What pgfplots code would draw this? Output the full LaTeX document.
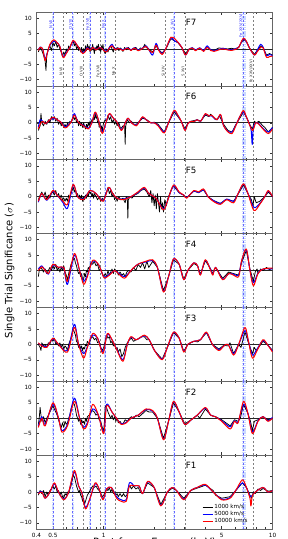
\documentclass[border=0pt]{standalone}
\usepackage{fontspec}
\setmainfont{DejaVu Sans}
\usepackage{pgfplots}
\pgfplotsset{compat=1.18}
\usepgfplotslibrary{groupplots}
\usetikzlibrary{calc}
\definecolor{bandblue}{rgb}{0.65,0.75,1}
\newcommand{\vl}{%
 \pgfplotsinvokeforeach{0.5,0.654,0.826,1.022,2.62}{%
  \addplot[bandblue, line width=1.4pt, opacity=0.6, dash pattern=on 1pt off 0.6pt, forget plot] coordinates {(##1,-12) (##1,12)};
  \addplot[blue!60, line width=0.25pt, dash pattern=on 1.5pt off 1.5pt, forget plot] coordinates {(##1,-12) (##1,12)};}
 \addplot[bandblue, line width=3pt, opacity=0.6, dash pattern=on 1pt off 0.6pt, forget plot] coordinates {(6.75,-12) (6.75,12)};
 \addplot[blue!60, line width=0.25pt, dash pattern=on 1.5pt off 1.5pt, forget plot] coordinates {(6.7,-12) (6.7,12)};
 \pgfplotsinvokeforeach{0.575,0.757,0.952,1.176,2.32,3.03,7.69}{%
  \addplot[black!50, line width=0.25pt, dash pattern=on 1.5pt off 1.5pt, forget plot] coordinates {(##1,-12) (##1,12)};}
 \addplot[black!85, line width=0.5pt, forget plot] coordinates {(0.4,0) (10,0)};
}
\pgfplotsset{
 kline/.style={black, line width=0.55pt},
 bline/.style={blue, line width=0.75pt, smooth, tension=0.5},
 rline/.style={red, line width=0.75pt, smooth, tension=0.5},
}
\begin{document}
\begin{tikzpicture}
\begin{groupplot}[group style={group size=1 by 7, vertical sep=0pt},
 width=177pt, height=55.39pt, scale only axis,
 xmode=log, xmin=0.4, xmax=10, ymin=-12, ymax=12,
 ytick={-10,-5,0,5,10}, yticklabels={−10,−5,0,5,10},
 xtick={0.4,0.5,1,5,10}, xticklabels={},
 minor xtick={0.6,0.7,0.8,0.9,2,3,4,6,7,8,9},
 tick align=inside, tick style={black!80, line width=0.35pt},
 major tick length=2pt, minor tick length=1.2pt,
 ticklabel style={font=\fontsize{4.3}{5}\selectfont},
 axis line style={black!60, line width=0.5pt},
 every axis plot/.append style={line join=round},
]
%%%%%%%% F7
\nextgroupplot
\vl
\addplot[kline] coordinates {(0.41,-1)(0.42,0.5)(0.43,-0.5)(0.44,-2)(0.45,-4)(0.455,-7)(0.46,-2)(0.47,0)(0.48,1)(0.49,-0.5)(0.5,2)(0.51,1)(0.52,2.5)(0.53,0.5)(0.54,1.5)(0.55,0)(0.56,-1)(0.57,-2.5)(0.58,-1)(0.59,-2)(0.6,0)(0.61,-1)(0.62,1)(0.63,0)(0.64,1.5)(0.66,2.5)(0.67,1)(0.68,2)(0.69,0)(0.70,1)(0.71,-0.5)(0.72,0.5)(0.73,-1)(0.74,0.5)(0.75,-1.5)(0.76,0)(0.77,-1)(0.78,1)(0.79,-0.5)(0.80,1.5)(0.81,0)(0.82,1)(0.83,-1)(0.84,0.5)(0.85,-0.5)(0.86,1.5)(0.87,0)(0.88,-1.5)(0.89,0.5)(0.9,-0.5)(0.91,1)(0.92,0)(0.93,1.5)(0.94,-0.5)(0.95,0.5)(0.96,-1)(0.97,1)(0.98,0)(0.99,1.5)(1.0,-0.5)(1.02,-1.5)(1.04,0)(1.06,-1)(1.08,0.5)(1.1,1)(1.12,0)(1.14,-1)(1.16,0.5)(1.18,-0.5)(1.2,0.5)(1.23,-0.5)(1.26,0.3)(1.3,-0.8)(1.33,0.5)(1.36,-0.3)(1.4,0.5)(1.45,-0.5)(1.5,0.2)(1.55,0.5)(1.6,-0.5)(1.65,0.3)(1.7,0)(1.75,1.5)(1.78,0.5)(1.85,0)(1.95,-1)(2.04,1)(2.12,-0.3)(2.22,-1.3)(2.35,0.3)(2.5,3.3)(2.65,2.5)(2.75,2)(2.9,0.5)(3.05,-1.5)(3.2,0)(3.35,0.3)(3.5,-0.3)(3.7,0.2)(3.9,-0.5)(4.1,0.6)(4.3,-0.3)(4.5,-0.5)(4.8,0.3)(5.1,0.2)(5.4,0)(5.7,0.2)(6.0,0)(6.3,0.5)(6.55,2.2)(6.75,3)(7.0,2.5)(7.3,0.3)(7.8,-1.8)(8.1,-0.5)(8.5,1)(8.8,0.5)(9.2,-2)(9.6,-1.5)(10,-2)};
\addplot[bline] coordinates {(0.41,-0.3)(0.42,0.6)(0.435,0)(0.45,-3.2)(0.465,-1)(0.48,1.2)(0.505,2.5)(0.53,2)(0.55,0.8)(0.575,-2.5)(0.6,-1.2)(0.63,0.5)(0.66,2.5)(0.69,1.5)(0.72,0)(0.75,-1.2)(0.78,-0.5)(0.8,0.5)(0.83,-0.3)(0.86,0.6)(0.9,-0.2)(0.94,0.5)(0.97,0.3)(1.0,-0.3)(1.04,-0.8)(1.08,0.5)(1.12,1.5)(1.17,-0.2)(1.22,0.3)(1.3,-0.3)(1.38,0.4)(1.45,-0.3)(1.52,0.4)(1.6,-0.4)(1.7,0.3)(1.78,1)(1.85,-0.2)(1.95,-2)(2.04,1.8)(2.12,-0.3)(2.22,-1.5)(2.35,0.5)(2.5,3.5)(2.65,2.5)(2.75,2.2)(2.9,0.5)(3.05,-2)(3.2,-0.2)(3.35,0.4)(3.5,-0.4)(3.7,0.4)(3.9,-0.5)(4.1,1)(4.3,-0.3)(4.5,-0.5)(4.8,-0.2)(5.1,0.2)(5.4,-0.2)(5.7,-0.3)(6.0,0)(6.3,0.5)(6.55,2.3)(6.75,3.2)(7.0,2.3)(7.3,0.3)(7.8,-2)(8.1,-0.5)(8.5,1.5)(8.8,0.5)(9.2,-2.2)(9.6,-1.8)(10,-2.2)};
\addplot[rline] coordinates {(0.41,-0.5)(0.42,0.5)(0.435,0)(0.45,-3.8)(0.465,-1)(0.48,1.5)(0.505,3)(0.53,2)(0.55,0.8)(0.575,-2.8)(0.6,-1.5)(0.63,0.5)(0.66,2.8)(0.69,1.5)(0.72,0)(0.75,-1.5)(0.78,-0.8)(0.8,0.3)(0.83,-0.5)(0.86,0.5)(0.9,-0.3)(0.94,0.4)(0.97,0.3)(1.0,-0.5)(1.04,-1)(1.08,0.3)(1.12,1)(1.17,-0.3)(1.22,0.2)(1.3,-0.5)(1.38,0.3)(1.45,-0.5)(1.52,0.3)(1.6,-0.6)(1.7,0.2)(1.78,0.8)(1.85,-0.3)(1.95,-1.2)(2.04,1.2)(2.12,-0.5)(2.22,-1.8)(2.35,0.5)(2.5,3.8)(2.65,3.2)(2.75,2.2)(2.9,0.5)(3.05,-2)(3.2,-0.2)(3.35,0.3)(3.5,-0.6)(3.7,0.3)(3.9,-0.8)(4.1,0.5)(4.3,-0.5)(4.5,-0.8)(4.8,-0.3)(5.1,0)(5.4,-0.3)(5.7,-0.5)(6.0,-0.2)(6.3,0.5)(6.55,2.5)(6.75,3.5)(7.0,2.5)(7.3,0.3)(7.8,-2)(8.1,-1)(8.5,0.5)(8.8,0.3)(9.2,-2.7)(9.6,-2.5)(10,-2.3)};
\node[font=\fontsize{6.5}{8}\selectfont] at (rel axis cs:0.655,0.856) {F7};
\begin{scope}[every node/.style={rotate=90, anchor=south, font=\fontsize{2.8}{3}\selectfont, inner sep=0.3pt}]
\node[text=blue!80] at (axis cs:0.5,8) {N VII};
\node[text=blue!80] at (axis cs:0.654,8) {O VIII};
\node[text=blue!80] at (axis cs:0.826,8) {Fe XVII};
\node[text=blue!80] at (axis cs:1.022,8) {Ne X};
\node[text=blue!80] at (axis cs:2.62,8) {S XVI};
\node[text=blue!80] at (axis cs:6.7,7.6) {Fe XXV/XXVI};
\node[text=black!80] at (axis cs:0.575,-7.3) {N VII};
\node[text=black!80] at (axis cs:0.757,-7.3) {O VIII};
\node[text=black!80] at (axis cs:0.952,-7.3) {Fe XVII};
\node[text=black!80] at (axis cs:1.176,-7.3) {Ne X};
\node[text=black!80] at (axis cs:2.32,-7.3) {Si XIV};
\node[text=black!80] at (axis cs:3.03,-7.3) {S XVI};
\node[text=black!80] at (axis cs:7.69,-7.3) {Fe XXV/XXVI};
\end{scope}
%%%%%%%% F6
\nextgroupplot
\vl
\addplot[kline] coordinates {(0.41,-2.5)(0.42,-1)(0.425,3)(0.43,0)(0.44,-1)(0.45,0.5)(0.46,-0.5)(0.47,1)(0.48,0)(0.49,2)(0.5,1)(0.51,2)(0.52,0.5)(0.53,1.5)(0.54,-0.5)(0.55,0.5)(0.56,-1)(0.57,0)(0.58,-1.5)(0.59,-0.5)(0.6,-1.5)(0.61,0)(0.62,-1)(0.63,0.5)(0.64,0)(0.66,2)(0.67,1)(0.68,2)(0.69,0)(0.7,1)(0.71,-1)(0.72,0.5)(0.73,-1)(0.74,0)(0.75,-1.5)(0.76,0)(0.77,-1)(0.78,-2)(0.79,-0.5)(0.80,-1.5)(0.81,0)(0.82,-1)(0.83,0.5)(0.84,-0.5)(0.85,1)(0.86,0)(0.87,2)(0.88,1)(0.89,3)(0.9,1.5)(0.91,2)(0.92,0)(0.93,0.5)(0.94,-1.5)(0.95,0)(0.96,-2)(0.97,-1)(0.98,-3)(0.99,-1)(1.0,0)(1.02,1)(1.04,0.5)(1.06,2.5)(1.08,1)(1.1,2)(1.12,0)(1.14,1)(1.16,-0.5)(1.18,0.5)(1.2,-1)(1.23,0)(1.26,-2)(1.3,-1)(1.33,-1)(1.34,-7)(1.35,-1)(1.38,1)(1.42,0)(1.46,0.5)(1.5,-0.5)(1.56,-0.5)(1.63,0.5)(1.7,1.5)(1.8,1)(1.9,0)(2.0,0.2)(2.1,-0.5)(2.28,-3)(2.42,0)(2.61,3.5)(2.75,2)(2.88,0.5)(3.03,-2)(3.15,0)(3.3,0.5)(3.58,1)(3.75,0.5)(4.0,2.5)(4.2,2)(4.3,2.8)(4.55,1.2)(4.7,1.2)(4.85,2.2)(5.13,-0.5)(5.45,-2.5)(5.76,-3)(6.0,-1)(6.4,1.5)(6.73,3.5)(7.05,1.5)(7.4,-1)(7.6,-2)(7.8,0.5)(8.0,0)(8.3,0.5)(8.77,-1)(9.0,-1.5)(9.44,-3)(10,-1.5)};
\addplot[bline] coordinates {(0.41,-1.5)(0.42,1)(0.435,0.5)(0.45,-0.3)(0.47,0.5)(0.5,1.5)(0.53,1)(0.555,0.3)(0.59,-1.3)(0.62,-0.5)(0.645,0.5)(0.67,3)(0.7,0.5)(0.73,-0.5)(0.76,-0.8)(0.81,-1.8)(0.85,0)(0.89,3.3)(0.93,1)(0.98,-3)(1.03,0)(1.08,2.8)(1.14,1.5)(1.19,0.5)(1.27,-2.2)(1.33,-0.5)(1.39,1.5)(1.46,0)(1.56,-0.8)(1.63,0.5)(1.7,1.8)(1.8,0.8)(1.9,0)(1.99,0)(2.1,-0.8)(2.28,-3)(2.42,0)(2.61,3.8)(2.75,2.3)(2.88,0.5)(3.03,-2.3)(3.15,-0.3)(3.3,0.5)(3.45,0.5)(3.58,1)(3.75,0.5)(4.0,2.8)(4.2,2.2)(4.35,2.3)(4.55,1.3)(4.7,1)(4.85,2.3)(4.95,2.3)(5.13,-1)(5.45,-2.8)(5.76,-3)(6.0,-1.3)(6.4,2)(6.73,3.5)(7.05,1.5)(7.45,-2)(7.58,-7)(7.7,-1.5)(7.95,0)(8.3,-0.3)(8.77,-1.8)(9.44,-3)(10,-1.5)};
\addplot[rline] coordinates {(0.41,-2)(0.42,-0.5)(0.435,0.5)(0.45,-0.3)(0.47,0.5)(0.5,1.8)(0.53,1)(0.555,0.3)(0.59,-1.7)(0.62,-0.8)(0.645,0.5)(0.67,2.5)(0.7,0.5)(0.73,-0.5)(0.76,-1)(0.81,-2)(0.85,0)(0.89,3.5)(0.93,1)(0.98,-3.5)(1.03,0)(1.08,3)(1.14,1.5)(1.19,0.5)(1.27,-2.5)(1.33,-0.5)(1.39,1.5)(1.46,0)(1.56,-1)(1.63,0.5)(1.7,2)(1.8,0.8)(1.9,0)(1.99,0)(2.1,-1)(2.28,-3.3)(2.42,0)(2.61,4)(2.75,2.5)(2.88,0.5)(3.03,-2.5)(3.15,-0.3)(3.3,0.5)(3.45,0.5)(3.58,1)(3.75,0.5)(4.0,3)(4.2,2.2)(4.35,2.5)(4.55,1.5)(4.7,1)(4.85,2.5)(4.95,2.5)(5.13,-1)(5.45,-3)(5.76,-3.5)(6.0,-1.5)(6.4,2)(6.73,4)(7.05,1.5)(7.6,-2.5)(7.95,0)(8.3,-0.5)(8.77,-2)(9.44,-3.5)(10,-2)};
\node[font=\fontsize{6.5}{8}\selectfont] at (rel axis cs:0.655,0.856) {F6};
%%%%%%%% F5
\nextgroupplot
\vl
\addplot[kline] coordinates {(0.41,-1)(0.42,0.5)(0.43,1.5)(0.44,0)(0.45,1.5)(0.46,-1)(0.47,0.5)(0.48,-0.5)(0.49,1)(0.5,1.5)(0.51,0.5)(0.52,2)(0.53,0)(0.54,1)(0.55,-0.5)(0.56,0.5)(0.57,-1)(0.58,-0.5)(0.59,-1.5)(0.6,-0.5)(0.61,-1.5)(0.62,0.5)(0.63,-0.5)(0.64,1)(0.66,3)(0.67,1.5)(0.68,2.5)(0.69,0)(0.7,1)(0.71,-0.5)(0.72,0.5)(0.73,-1)(0.74,0.5)(0.75,-1.5)(0.76,0)(0.77,-1)(0.78,0.5)(0.79,-0.5)(0.8,1)(0.81,0)(0.82,2)(0.83,1)(0.84,1.5)(0.85,0)(0.86,1)(0.87,-0.5)(0.88,1)(0.9,0)(0.92,-1)(0.94,0)(0.96,-1.5)(0.98,-0.5)(1.0,-1.5)(1.02,0.5)(1.04,1.5)(1.06,3)(1.08,1)(1.1,2)(1.12,0)(1.14,1)(1.16,-1)(1.18,0)(1.2,-1.5)(1.23,0)(1.26,-1)(1.3,-0.5)(1.34,-2)(1.36,0)(1.38,-1)(1.39,-7)(1.4,-1)(1.43,0)(1.47,-0.5)(1.52,0.5)(1.59,1)(1.66,2)(1.74,2.5)(1.8,1.5)(1.86,0)(1.9,2)(1.93,-2)(1.96,1)(1.99,-3)(2.02,0.5)(2.05,-4)(2.08,1)(2.11,-2)(2.14,-5)(2.17,0)(2.2,-4)(2.23,-2)(2.26,-5)(2.3,-1)(2.35,-3)(2.4,-0.5)(2.5,2)(2.59,3.5)(2.8,1.2)(2.98,0.5)(3.1,-0.3)(3.42,1.8)(3.65,1.3)(3.9,2.2)(4.15,0)(4.45,-1.2)(4.9,-2.2)(5.35,-0.8)(5.88,-1.5)(6.25,0.8)(6.73,3.8)(7.15,1)(7.5,-1)(7.65,-3)(7.8,0)(8.0,-2)(8.4,-1.5)(9.0,0)(9.44,1.5)(10,0)};
\addplot[bline] coordinates {(0.41,-1.8)(0.43,1)(0.46,-1.2)(0.5,1.8)(0.53,0.5)(0.575,-2)(0.61,-3.8)(0.66,3.8)(0.7,0)(0.76,-0.8)(0.83,2)(0.9,1)(0.99,-1.3)(1.07,3)(1.13,1)(1.2,-0.5)(1.3,-0.8)(1.45,0)(1.59,1.3)(1.74,2.8)(1.85,1)(2.04,-0.5)(2.26,-4)(2.4,-1)(2.59,3.5)(2.8,1.3)(2.98,0.5)(3.1,-0.3)(3.42,1.8)(3.65,1.3)(3.9,2.2)(4.15,0)(4.45,-1.2)(4.9,-2.2)(5.35,-0.8)(5.88,-1.5)(6.25,1)(6.73,4)(7.15,1)(7.76,-3.5)(8.4,-2.2)(9.0,0)(9.44,1.8)(10,0)};
\addplot[rline] coordinates {(0.41,-1.5)(0.43,1)(0.46,-1)(0.5,2)(0.53,0.5)(0.575,-1.5)(0.61,-2.5)(0.66,4)(0.7,0)(0.76,-1)(0.83,2)(0.9,1)(0.99,-1.5)(1.07,3)(1.13,1)(1.2,-0.5)(1.3,-1)(1.45,0)(1.59,1.5)(1.74,3)(1.85,1)(2.04,-0.5)(2.26,-4.3)(2.4,-1)(2.59,3.8)(2.8,1.5)(2.98,0.5)(3.1,-0.5)(3.42,2)(3.65,1.5)(3.9,2.5)(4.15,0)(4.45,-1.5)(4.9,-2.5)(5.35,-1)(5.88,-2)(6.25,1)(6.73,4.2)(7.15,1)(7.76,-4.5)(8.4,-2.5)(9.0,0)(9.44,2)(10,0)};
\node[font=\fontsize{6.5}{8}\selectfont] at (rel axis cs:0.655,0.856) {F5};
%%%%%%%% F4
\nextgroupplot
\vl
\addplot[kline] coordinates {(0.41,-2)(0.415,0)(0.42,1)(0.43,0.5)(0.44,-0.5)(0.45,0.5)(0.46,-1)(0.47,0)(0.48,1)(0.49,0)(0.5,1.5)(0.51,0.5)(0.52,2)(0.53,0)(0.54,1)(0.55,-0.5)(0.56,1)(0.57,0)(0.58,1.5)(0.59,-0.5)(0.6,-1.5)(0.61,-3)(0.62,-1)(0.63,0.5)(0.64,2)(0.66,3.5)(0.67,4)(0.68,2.5)(0.69,1.5)(0.7,0)(0.71,-1)(0.72,-0.5)(0.73,-2)(0.74,-1)(0.75,-3)(0.76,-3)(0.77,-1)(0.78,-2)(0.79,0)(0.8,-0.5)(0.81,1)(0.82,0.5)(0.84,2.5)(0.86,2)(0.88,3)(0.9,1.5)(0.92,2)(0.94,0)(0.96,0.5)(0.98,-1)(1.0,-2)(1.02,-1)(1.04,-2)(1.06,0)(1.08,-1.5)(1.1,-0.5)(1.12,0.5)(1.14,-1)(1.16,0.5)(1.18,-0.5)(1.2,0)(1.22,-1.5)(1.25,-0.5)(1.28,-1.5)(1.31,-1)(1.34,-2)(1.37,-0.5)(1.4,0)(1.45,-0.5)(1.5,1)(1.55,0)(1.6,2)(1.65,1)(1.7,2.5)(1.75,0.5)(1.8,3)(1.85,1)(1.9,2)(1.95,3)(2.08,1)(2.26,-6.5)(2.42,-2)(2.59,3.5)(2.8,2)(2.98,-2.8)(3.15,0)(3.42,2.3)(3.6,1.5)(3.74,-1.2)(4.0,3.2)(4.3,0.5)(4.43,-1)(4.6,1)(5.06,-2.5)(5.5,-0.5)(5.88,-1)(6.3,-1.5)(6.55,2.5)(6.99,6.5)(7.35,0.5)(7.7,-3.5)(7.9,-0.5)(8.1,0.5)(8.2,-1)(8.5,0.5)(8.8,0)(9.2,1)(9.6,0.3)(10,0.8)};
\addplot[bline] coordinates {(0.41,0.5)(0.43,1.5)(0.45,0)(0.47,-1.2)(0.5,1.8)(0.54,1)(0.58,0.8)(0.61,-4.5)(0.67,5)(0.72,0)(0.76,-3.5)(0.8,-1.5)(0.86,3)(0.93,2)(0.98,-1)(1.01,-2.2)(1.08,-1.2)(1.16,0)(1.22,-0.8)(1.33,-2)(1.45,0)(1.59,2)(1.78,2.8)(1.95,3.2)(2.08,1)(2.26,-6.8)(2.42,-2)(2.59,3.7)(2.8,2)(2.98,-3)(3.15,0)(3.42,2.5)(3.6,1.5)(3.74,-1.3)(4.0,3.3)(4.3,0.3)(4.43,-1.3)(4.6,1)(5.06,-2.8)(5.5,-1)(5.88,-1.2)(6.3,-1.5)(6.55,3)(6.99,6.8)(7.35,0)(7.7,-4)(8.2,-0.8)(8.8,0.5)(10,0.5)};
\addplot[rline] coordinates {(0.41,0)(0.43,1.2)(0.45,0)(0.47,-1)(0.5,2)(0.54,1)(0.58,1)(0.61,-3.5)(0.67,5.5)(0.72,0)(0.76,-4.5)(0.8,-2)(0.86,3.3)(0.93,2)(0.98,-1)(1.01,-2.5)(1.08,-1.5)(1.16,0)(1.22,-1)(1.33,-2.5)(1.45,0)(1.59,2)(1.78,3)(1.95,3.5)(2.08,1)(2.26,-7)(2.42,-2)(2.59,3.8)(2.8,2)(2.98,-3)(3.15,0)(3.42,2.5)(3.6,1.5)(3.74,-1.5)(4.0,3.5)(4.3,0)(4.43,-1.5)(4.6,1)(5.06,-3)(5.5,-1)(5.88,-1.5)(6.3,-2)(6.55,3)(6.99,7)(7.35,0)(7.7,-5)(8.2,-1)(8.8,0.5)(10,0.8)};
\node[font=\fontsize{6.5}{8}\selectfont] at (rel axis cs:0.655,0.856) {F4};
%%%%%%%% F3
\nextgroupplot
\vl
\addplot[kline] coordinates {(0.41,0)(0.42,-1)(0.425,-2)(0.43,0.5)(0.44,-0.5)(0.45,0)(0.46,-1)(0.47,0.5)(0.48,0)(0.49,1.5)(0.5,1)(0.51,2)(0.52,0)(0.53,0.5)(0.54,-0.5)(0.55,0.5)(0.56,-1)(0.57,0)(0.58,-1.5)(0.59,-0.5)(0.6,-1)(0.61,-2)(0.62,0)(0.63,1)(0.64,2)(0.66,5)(0.67,4)(0.68,3)(0.69,1)(0.7,0.5)(0.71,-1)(0.72,0)(0.73,-1.5)(0.74,-0.5)(0.75,-2)(0.76,-1)(0.77,-1.5)(0.78,0)(0.79,-0.5)(0.8,1)(0.82,0)(0.84,2)(0.86,2.5)(0.88,1.5)(0.9,2)(0.92,0.5)(0.94,1)(0.96,-1)(0.98,-2)(1.0,-1)(1.02,1)(1.04,3)(1.06,2)(1.08,2.5)(1.1,0.5)(1.12,1)(1.14,-0.5)(1.16,0)(1.18,-1.5)(1.2,-1)(1.22,-2.5)(1.25,-1.5)(1.28,-4)(1.31,-3)(1.34,-1)(1.38,0.5)(1.42,1.5)(1.46,2)(1.5,1)(1.56,1.5)(1.62,2)(1.68,2.5)(1.74,2.5)(1.8,1.5)(1.86,1.5)(2.0,-2)(2.22,-4.8)(2.38,-1)(2.59,3.8)(2.8,2)(2.98,-2.2)(3.15,0)(3.42,1)(3.6,0.8)(3.74,1.5)(4.06,3.8)(4.4,0)(4.81,-1.5)(5.15,-0.3)(5.45,-0.5)(5.6,0.5)(5.88,-3)(6.3,0)(6.5,-1)(6.87,4)(7.2,0.5)(7.6,-3)(7.8,-1)(8.0,-2)(8.4,-0.5)(8.77,1)(9.3,0)(10,-2)};
\addplot[bline] coordinates {(0.41,0.3)(0.43,-0.3)(0.46,-0.8)(0.5,1.8)(0.54,0)(0.61,-2)(0.67,6.5)(0.71,0)(0.76,-3)(0.8,-0.8)(0.86,3)(0.92,2)(0.99,-2.5)(1.05,3.2)(1.12,1.5)(1.2,-1.8)(1.3,-5)(1.38,0)(1.45,2.3)(1.56,1.5)(1.74,2.8)(1.86,1.5)(2.0,-2)(2.22,-4.8)(2.38,-1)(2.59,3.8)(2.8,2)(2.98,-2.3)(3.15,0)(3.42,1)(3.74,1.5)(4.06,3.8)(4.4,0)(4.81,-1.7)(5.15,-0.5)(5.45,0)(5.88,-3)(6.3,0)(6.87,4.5)(7.2,1)(7.6,-3.5)(8.1,-1.5)(8.77,1.3)(9.3,0)(10,-2.2)};
\addplot[rline] coordinates {(0.41,0.5)(0.43,-0.5)(0.46,-1)(0.5,2)(0.54,0)(0.61,-2.5)(0.67,5.5)(0.71,0)(0.76,-4.5)(0.8,-1)(0.86,3.5)(0.92,2)(0.99,-3)(1.05,3.5)(1.12,1.5)(1.2,-2)(1.3,-5.5)(1.38,0)(1.45,2.5)(1.56,1.5)(1.74,3)(1.86,1.5)(2.0,-2)(2.22,-5)(2.38,-1)(2.59,4)(2.8,2)(2.98,-2.5)(3.15,0)(3.42,1)(3.74,1.5)(4.06,4)(4.4,0)(4.81,-2)(5.15,-0.5)(5.45,0)(5.88,-3.5)(6.3,0)(6.87,5.5)(7.2,1)(7.6,-4.5)(8.1,-2)(8.77,1.5)(9.3,0)(10,-2.5)};
\node[font=\fontsize{6.5}{8}\selectfont] at (rel axis cs:0.655,0.856) {F3};
%%%%%%%% F2
\nextgroupplot
\vl
\addplot[kline] coordinates {(0.41,-2)(0.415,0)(0.42,3.5)(0.425,1)(0.43,-1)(0.44,0.5)(0.45,-1.5)(0.46,0)(0.47,1)(0.48,2)(0.49,3)(0.5,4)(0.51,3)(0.52,2)(0.53,1)(0.54,-0.5)(0.55,-2)(0.56,-3)(0.57,-1.5)(0.58,-3)(0.59,-1)(0.6,-2)(0.61,-1.5)(0.62,0)(0.63,1)(0.64,3)(0.66,5)(0.67,4.5)(0.68,3)(0.69,1)(0.7,0)(0.71,-1)(0.72,0)(0.73,-2)(0.74,-0.5)(0.75,-1.5)(0.76,-1)(0.77,-2)(0.78,0)(0.79,-1)(0.8,0.5)(0.82,1)(0.84,2)(0.86,2.5)(0.88,2)(0.9,1)(0.92,1.5)(0.94,-0.5)(0.96,-1)(0.98,-3)(1.0,-4)(1.01,-1)(1.02,4)(1.04,3.5)(1.06,2)(1.08,1)(1.1,0)(1.12,1)(1.14,-0.5)(1.16,0.5)(1.18,-1)(1.2,0)(1.22,-1.5)(1.25,-1)(1.28,-2)(1.31,-1.5)(1.34,-0.5)(1.38,-1)(1.42,0)(1.46,0.5)(1.5,0)(1.56,1)(1.62,0.5)(1.7,1.5)(1.78,2.5)(1.86,2)(1.95,2)(2.08,0)(2.26,-6.5)(2.42,-1)(2.59,5)(2.8,2)(3.02,-1.8)(3.3,-0.5)(3.58,1)(3.7,0)(4.0,3)(4.3,1)(4.58,0.5)(5.0,-0.5)(5.3,-1.5)(5.61,-2.5)(5.95,-0.5)(6.25,-1)(6.45,0)(6.73,4.5)(7.15,1.5)(7.4,-1)(7.6,-4)(7.8,-1)(8.2,-0.5)(8.77,0.5)(9.4,-0.5)(10,0)};
\addplot[bline] coordinates {(0.41,-2.5)(0.43,0.5)(0.45,-2)(0.5,4.5)(0.54,0)(0.565,-4)(0.61,-2)(0.67,6.5)(0.72,0)(0.76,-3)(0.8,-1.5)(0.86,3)(0.93,1)(1.0,-4.5)(1.04,4.5)(1.12,2)(1.19,0)(1.27,-1.8)(1.36,-1.3)(1.45,0)(1.6,1)(1.78,2.8)(1.95,2.3)(2.08,0)(2.26,-6.8)(2.42,-1)(2.59,5.3)(2.8,2)(3.02,-2)(3.3,-0.5)(3.58,1)(4.0,3.3)(4.3,1)(4.58,0.5)(5.0,-0.8)(5.61,-2.8)(5.95,-0.8)(6.25,-1.2)(6.73,4.5)(7.15,1.5)(7.6,-4.5)(8.2,-0.8)(8.77,0.5)(9.4,-0.8)(10,0.3)};
\addplot[rline] coordinates {(0.41,-3)(0.43,0)(0.45,-2.5)(0.5,5)(0.54,0)(0.565,-4.5)(0.61,-2.5)(0.67,5.5)(0.72,0)(0.76,-3.5)(0.8,-2)(0.86,4.5)(0.93,1)(1.0,-5)(1.04,4)(1.12,2)(1.19,0)(1.27,-2)(1.36,-1.5)(1.45,0)(1.6,1)(1.78,3)(1.95,2.5)(2.08,0)(2.26,-7)(2.42,-1)(2.59,5.5)(2.8,2)(3.02,-2)(3.3,-0.5)(3.58,1)(4.0,3.5)(4.3,1)(4.58,0.5)(5.0,-1)(5.61,-3.5)(5.95,-1)(6.25,-1.5)(6.73,5.5)(7.15,1.5)(7.6,-5)(8.2,-1)(8.77,0.5)(9.4,-1)(10,0)};
\node[font=\fontsize{6.5}{8}\selectfont] at (rel axis cs:0.655,0.856) {F2};
%%%%%%%% F1
\nextgroupplot[xticklabels={0.4,0.5,1,5,10},
 xlabel={Rest-frame Energy (keV)}, xlabel style={font=\fontsize{7.5}{9}\selectfont, inner sep=0pt, yshift=4pt},
 legend style={at={(rel axis cs:0.70,0.355)}, anchor=north west, draw=none, fill=none,
  font=\fontsize{4.2}{5}\selectfont, inner sep=0pt, row sep=-0.6pt, nodes={inner sep=0.6pt}},
 legend cell align=left,
 legend image code/.code={\draw[#1] (0pt,0pt) -- (8pt,0pt);}]
\vl
\addplot[kline] coordinates {(0.41,-1)(0.42,0.5)(0.43,-0.5)(0.44,0.5)(0.45,-1.5)(0.46,0)(0.47,-1)(0.48,0.5)(0.49,1)(0.5,2)(0.51,1)(0.52,2)(0.53,0)(0.54,0.5)(0.55,-1)(0.56,0)(0.57,-1.5)(0.58,-2)(0.59,-0.5)(0.6,-1)(0.61,0)(0.62,-0.5)(0.63,1)(0.64,2)(0.66,5.5)(0.67,5)(0.68,3.5)(0.69,2)(0.7,1)(0.71,0)(0.72,0.5)(0.73,-1)(0.74,-1.5)(0.75,-3)(0.76,-2)(0.77,-4)(0.78,-3)(0.79,-2)(0.8,-1)(0.82,0)(0.84,1)(0.86,2)(0.88,1.5)(0.9,2)(0.92,1)(0.94,0.5)(0.96,-0.5)(0.98,-1.5)(1.0,-1)(1.02,0)(1.04,1)(1.06,0.5)(1.08,1.5)(1.1,0)(1.12,1)(1.14,-0.5)(1.16,0)(1.18,-1)(1.2,-0.5)(1.22,-1.5)(1.25,-0.5)(1.28,-1.5)(1.31,-0.5)(1.34,-1.5)(1.37,-1)(1.4,1.5)(1.43,2)(1.46,1)(1.5,2)(1.55,1)(1.6,1.5)(1.65,0)(1.7,-0.5)(1.82,3)(1.99,1.5)(2.18,-4)(2.38,0)(2.55,1.3)(2.7,0.5)(2.98,-2)(3.27,0.5)(3.58,1.3)(4.0,2.2)(4.2,1.5)(4.45,0.5)(4.6,-1)(5.0,-2)(5.6,-1.5)(6.05,0.5)(6.63,3)(7.0,1.5)(7.35,-1)(7.5,-2)(7.7,0)(7.9,-0.5)(8.2,1)(8.5,0.5)(8.77,1.2)(9.4,0.3)(10,0.5)};
\addlegendentry{1000 km/s}
\addplot[bline] coordinates {(0.41,-0.3)(0.43,0.2)(0.45,-2)(0.48,0)(0.51,2.7)(0.54,0)(0.58,-2.3)(0.62,0)(0.67,6.5)(0.71,2)(0.74,0)(0.78,-5)(0.83,-2)(0.89,2.7)(0.94,1)(0.99,-2.3)(1.04,1)(1.11,1.5)(1.19,-1.5)(1.27,-2.5)(1.36,-2.5)(1.42,3)(1.52,2)(1.62,2)(1.7,-0.5)(1.82,3.3)(1.99,1.5)(2.18,-4.3)(2.38,0)(2.55,1.5)(2.7,0.5)(2.98,-2.3)(3.27,0.5)(3.58,1.5)(4.0,2.3)(4.45,0)(5.0,-2.3)(5.6,-1.8)(6.05,0.5)(6.63,3)(7.0,1.5)(7.4,-1.5)(7.7,-0.5)(7.9,0)(8.77,1.5)(9.4,0)(10,0.5)};
\addlegendentry{5000 km/s}
\addplot[rline] coordinates {(0.41,-0.5)(0.43,0)(0.45,-2)(0.48,0)(0.51,3)(0.54,0)(0.58,-2.5)(0.62,0)(0.67,7)(0.71,2)(0.74,0)(0.78,-5.5)(0.83,-2)(0.89,3)(0.94,1)(0.99,-2.5)(1.04,1)(1.11,1.5)(1.19,-2)(1.27,-3)(1.36,-3)(1.42,2)(1.52,2)(1.62,2)(1.7,-0.5)(1.82,3.5)(1.99,1.5)(2.18,-4.5)(2.38,0)(2.55,1.5)(2.7,0.5)(2.98,-2.5)(3.27,0.5)(3.58,1.5)(4.0,2.5)(4.45,0)(5.0,-2.5)(5.6,-2)(6.05,0.5)(6.63,4)(7.0,1.5)(7.35,-2)(7.45,-4.5)(7.6,-1)(7.9,0)(8.77,1.5)(9.4,0)(10,0.5)};
\addlegendentry{10000 km/s}
\node[font=\fontsize{6.5}{8}\selectfont] at (rel axis cs:0.655,0.856) {F1};
\end{groupplot}
\node[rotate=90, font=\fontsize{7.5}{9}\selectfont] at ($(group c1r1.north west)!0.5!(group c1r7.south west)+(-20.25pt,0)$) {Single Trial Significance ($\sigma$)};
\pgfresetboundingbox
\path ($(group c1r1.north west)+(-27.4pt,9pt)$) rectangle ($(group c1r7.south east)+(10.9pt,-7.5pt)$);
\end{tikzpicture}
\end{document}
